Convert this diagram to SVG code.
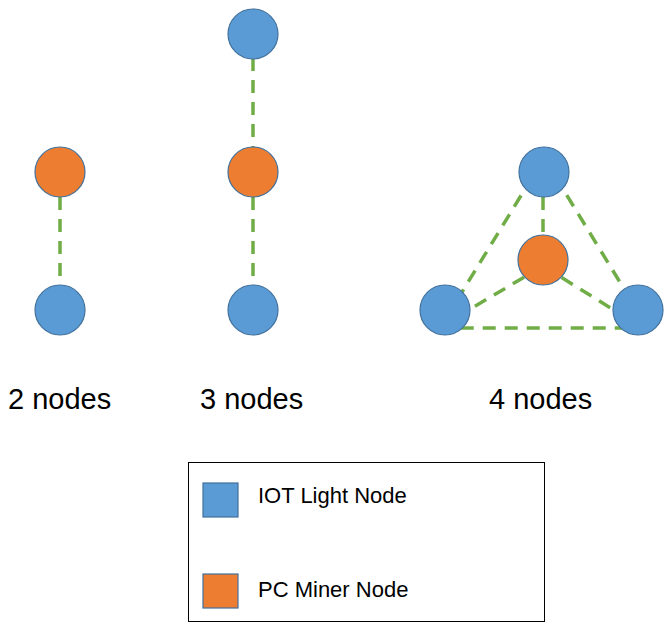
<svg xmlns="http://www.w3.org/2000/svg" width="664" height="626" viewBox="0 0 664 626">
<style>
.iot{fill:#5B9BD5;stroke:#41719C;stroke-width:1.2}
.pc{fill:#ED7D31;stroke:#41719C;stroke-width:1.2}
.link{stroke:#70AD47;stroke-width:3.5;stroke-dasharray:13 9;fill:none}
.lbl{font-family:"Liberation Sans",Arial,sans-serif;font-size:29px;fill:#000}
.leg{font-family:"Liberation Sans",Arial,sans-serif;font-size:22px;fill:#000}
</style>
<rect width="664" height="626" fill="#fff"/>
<g id="connectors">
<line class="link" x1="60" y1="197" x2="60" y2="285"/>
<line class="link" x1="253" y1="58" x2="253" y2="147"/>
<line class="link" x1="253" y1="197" x2="253" y2="285"/>
<polygon class="link" points="544,158 440,328 648,328"/>
<line class="link" x1="543" y1="197" x2="543" y2="235"/>
<line class="link" x1="543" y1="266" x2="455" y2="318"/>
<line class="link" x1="543" y1="266" x2="630" y2="320"/>
</g>
<g id="n2-pc"><circle class="pc" cx="60" cy="172" r="25"/></g>
<g id="n2-iot"><circle class="iot" cx="60" cy="310" r="25"/></g>
<g id="n3-iot-top"><circle class="iot" cx="253" cy="34" r="25"/></g>
<g id="n3-pc"><circle class="pc" cx="253" cy="172" r="25"/></g>
<g id="n3-iot-bottom"><circle class="iot" cx="253" cy="310" r="25"/></g>
<g id="n4-iot-top"><circle class="iot" cx="544" cy="172" r="25"/></g>
<g id="n4-pc"><circle class="pc" cx="543" cy="260" r="25"/></g>
<g id="n4-iot-left"><circle class="iot" cx="445" cy="310" r="25"/></g>
<g id="n4-iot-right"><circle class="iot" cx="638" cy="310" r="25"/></g>
<g id="labels">
<text class="lbl" x="8" y="409">2 nodes</text>
<text class="lbl" x="200" y="409">3 nodes</text>
<text class="lbl" x="489" y="409">4 nodes</text>
</g>
<g id="legend">
<rect x="188.5" y="462.5" width="356" height="159" fill="#fff" stroke="#000" stroke-width="1"/>
<rect class="iot" x="203" y="483" width="35" height="34"/>
<text class="leg" x="258" y="503">IOT Light Node</text>
<rect class="pc" x="203" y="574" width="35" height="34"/>
<text class="leg" x="258" y="597">PC Miner Node</text>
</g>
</svg>
